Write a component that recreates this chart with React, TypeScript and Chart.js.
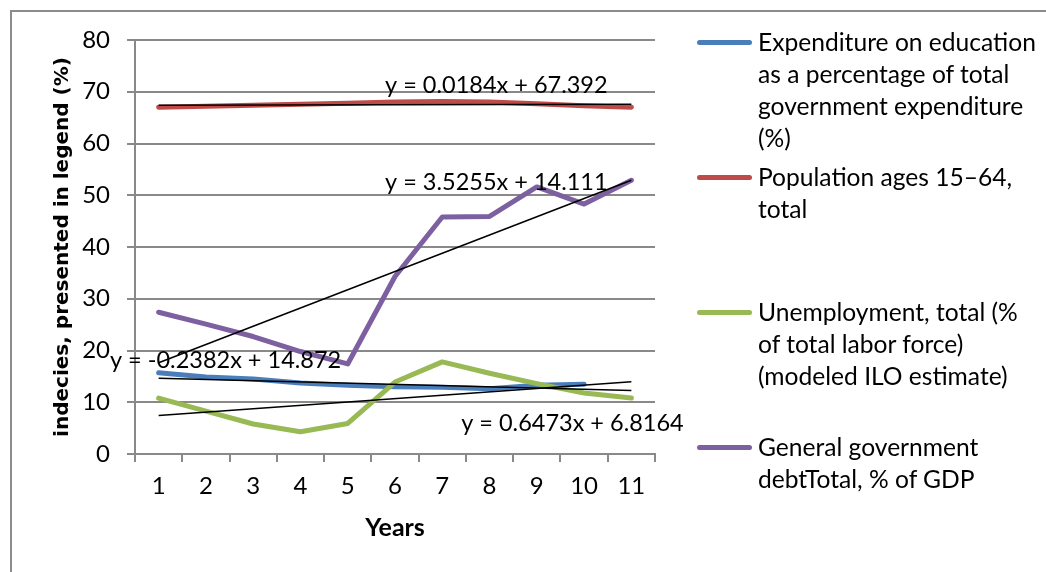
import React, { useEffect, useRef } from 'react';
import { Chart, registerables } from 'chart.js';

Chart.register(...registerables);

// ---- data ----
const years = ['1', '2', '3', '4', '5', '6', '7', '8', '9', '10', '11'];
const education = [15.7, 14.9, 14.5, 13.7, 13.3, 13.0, 12.9, 12.6, 13.3, 13.5, null];
const population = [67.0, 67.2, 67.4, 67.6, 67.8, 68.0, 68.1, 68.0, 67.7, 67.3, 67.0];
const unemployment = [10.8, 8.3, 5.8, 4.3, 5.9, 13.9, 17.8, 15.6, 13.6, 11.8, 10.8];
const debt = [27.4, 25.1, 22.7, 19.8, 17.4, 34.3, 45.8, 45.9, 51.6, 48.3, 52.9];

const seriesNames: string[][] = [
  ['Expenditure on education', 'as a percentage of total', 'government expenditure', '(%)'],
  ['Population ages 15\u201364,', 'total'],
  ['Unemployment, total (%', 'of total labor force)', '(modeled ILO estimate)'],
  ['General government', 'debtTotal, % of GDP'],
];
const seriesColors = ['#4A7EBB', '#BE4B48', '#98B954', '#7D60A0'];

// linear trend lines (values at year 1 and year 11, read from the equations)
const trendEquations = [
  'y = -0.2382x + 14.872',
  'y = 0.0184x + 67.392',
  'y = 0.6473x + 6.8164',
  'y = 3.5255x + 14.111',
];
const trendStart = [14.63, 67.41, 7.46, 17.64];
const trendEnd = [12.25, 67.59, 13.94, 52.89];

// label anchors in axis units (category index, value)
const eqAnchorX = [-1.03, 4.79, 6.4, 4.79];
const eqAnchorY = [18.0, 71.3, 5.9, 52.4];

const FONT = 'Lato';
const GRID = '#898989';

const eqPlugin = {
  id: 'eqLabels',
  afterDatasetsDraw(chart: any) {
    const { ctx, scales } = chart;
    const x = scales.x;
    const y = scales.y;
    ctx.save();
    ctx.font = `23.5px ${FONT}`;
    ctx.fillStyle = '#000';
    ctx.textBaseline = 'middle';
    ctx.textAlign = 'left';
    trendEquations.forEach((t, i) => {
      ctx.fillText(t, x.getPixelForValue(eqAnchorX[i]), y.getPixelForValue(eqAnchorY[i]));
    });
    ctx.restore();
  },
};

function trendSeries(i: number) {
  return years.map((_, k) => (k === 0 ? trendStart[i] : k === years.length - 1 ? trendEnd[i] : null));
}

export default function App() {
  const ref = useRef<HTMLCanvasElement | null>(null);

  useEffect(() => {
    if (!ref.current) return;
    const values = [education, population, unemployment, debt];
    const dataOrder = [4, 3, 2, 1];
    const datasets: any[] = [];
    values.forEach((v, i) => {
      datasets.push({
        label: seriesNames[i].join(' '),
        data: v,
        borderColor: seriesColors[i],
        backgroundColor: seriesColors[i],
        borderWidth: 5,
        pointRadius: 0,
        tension: 0,
        borderCapStyle: 'round',
        borderJoinStyle: 'round',
        fill: false,
        order: dataOrder[i],
      });
    });
    values.forEach((_, i) => {
      datasets.push({
        label: 'trend ' + i,
        data: trendSeries(i),
        borderColor: '#000',
        borderWidth: 1.5,
        pointRadius: 0,
        spanGaps: true,
        fill: false,
        order: 0,
      });
    });

    const chart = new Chart(ref.current, {
      type: 'line',
      data: { labels: years, datasets },
      options: {
        animation: false,
        responsive: false,
        maintainAspectRatio: false,
        layout: { padding: { left: 47, top: 40, right: 391, bottom: 27 } },
        plugins: { legend: { display: false }, tooltip: { enabled: false } },
        scales: {
          x: {
            type: 'category',
            offset: true,
            grid: { offset: true, drawOnChartArea: false, drawTicks: true, tickLength: 8, color: GRID, lineWidth: 2 },
            border: { display: true, color: GRID, width: 2 },
            ticks: { font: { family: FONT, size: 24 }, color: '#000', padding: 10, maxRotation: 0, autoSkip: false },
            title: {
              display: true,
              text: 'Years',
              font: { family: FONT, size: 25, weight: 'bold' },
              color: '#000',
              padding: { top: 4, bottom: 2 },
            },
            afterFit(s: any) {
              s.height = 91;
            },
          },
          y: {
            min: 0,
            max: 80,
            ticks: { stepSize: 10, font: { family: FONT, size: 24 }, color: '#000', padding: 17 },
            grid: { color: GRID, lineWidth: 2, tickLength: 8 },
            border: { display: true, color: GRID, width: 2 },
            title: {
              display: true,
              text: 'indecies, presented in legend (%)',
              font: { family: 'DejaVu Sans', size: 20, weight: 'bold' },
              color: '#000',
              padding: { top: 4, bottom: 4 },
            },
            afterFit(s: any) {
              s.width = 88;
            },
          },
        },
      } as any,
      plugins: [eqPlugin],
    });
    return () => chart.destroy();
  }, []);

  return (
    <div style={{ position: 'absolute', left: 0, top: 0, width: 1046, height: 572, overflow: 'hidden', background: '#fff' }}>
      <div
        style={{
          position: 'absolute',
          left: 10,
          top: 10,
          width: 1100,
          height: 600,
          borderLeft: '2px solid #8c8c8c',
          borderTop: '2px solid #8c8c8c',
        }}
      />
      <canvas ref={ref} width={1046} height={572} style={{ position: 'absolute', left: 0, top: 0 }} />
      <div style={{ position: 'absolute', left: 697, top: 26, width: 345 }}>
        {seriesNames.map((lines, i) => (
          <div key={i} style={{ height: 135, display: 'flex', alignItems: 'flex-start' }}>
            <div
              style={{
                width: 55,
                height: 5,
                borderRadius: 3,
                background: seriesColors[i],
                marginTop: 13.5,
                flexShrink: 0,
              }}
            />
            <div style={{ marginLeft: 6, fontFamily: FONT, fontSize: 24.6, lineHeight: '32px', color: '#000', whiteSpace: 'nowrap' }}>
              {lines.map((l, k) => (
                <div key={k}>{l}</div>
              ))}
            </div>
          </div>
        ))}
      </div>
    </div>
  );
}
